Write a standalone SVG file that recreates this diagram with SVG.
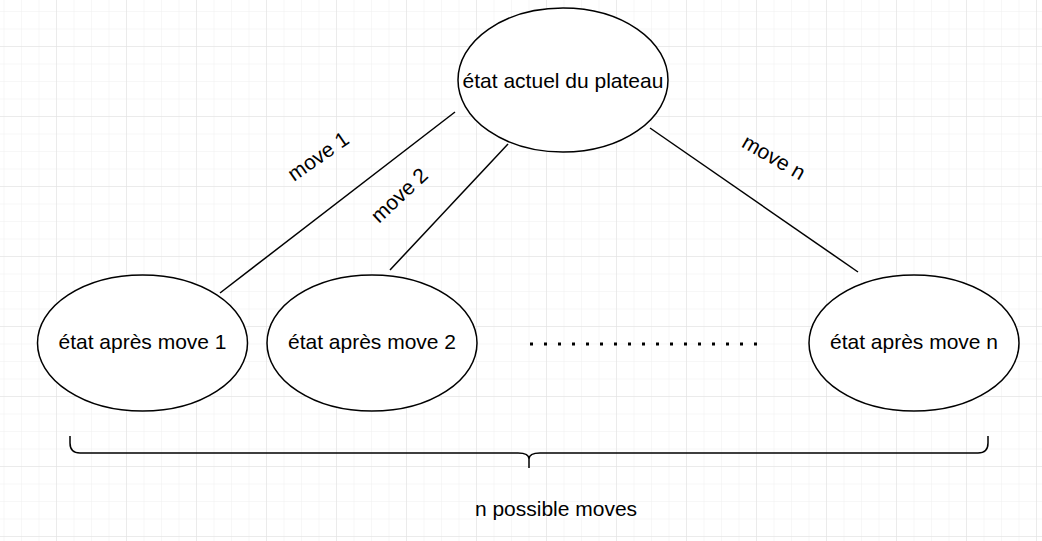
<svg xmlns="http://www.w3.org/2000/svg" width="1042" height="541" viewBox="0 0 1042 541">
<defs>
<pattern id="minor" width="17.5" height="17.5" patternUnits="userSpaceOnUse" x="56" y="46">
<path d="M0 0 H17.5 M0 0 V17.5" fill="none" stroke="#f0f0f0" stroke-width="1"/>
</pattern>
<pattern id="major" width="70" height="70" patternUnits="userSpaceOnUse" x="56" y="46">
<path d="M0 0 H70 M0 0 V70" fill="none" stroke="#e0e0e0" stroke-width="1"/>
</pattern>
<style>
.node ellipse{fill:#fff;stroke:#000;stroke-width:1.5}
text{font-family:"Liberation Sans",Arial,sans-serif;font-size:21px;fill:#000}
.lbl{text-anchor:middle;dominant-baseline:central}
.edge{stroke:#000;stroke-width:1.5;fill:none}
</style>
</defs>
<rect width="1042" height="541" fill="#fff"/>
<rect width="1042" height="541" fill="url(#minor)"/>
<rect width="1042" height="541" fill="url(#major)"/>
<g id="connectors">
<line class="edge" x1="455" y1="112" x2="220" y2="293"/>
<line class="edge" x1="508" y1="144" x2="390" y2="270"/>
<line class="edge" x1="650" y1="128" x2="858" y2="272"/>
<text class="lbl" transform="translate(318,156) rotate(-35)">move 1</text>
<text class="lbl" transform="translate(399,195) rotate(-43)">move 2</text>
<text class="lbl" transform="translate(774,157) rotate(30)">move n</text>
</g>
<g id="node-root" class="node">
<ellipse cx="563" cy="80" rx="105" ry="72"/>
<text class="lbl" x="563" y="80">état actuel du plateau</text>
</g>
<g id="node-move1" class="node">
<ellipse cx="142.5" cy="343" rx="105" ry="68"/>
<text class="lbl" x="142.5" y="341">état après move 1</text>
</g>
<g id="node-move2" class="node">
<ellipse cx="372" cy="343" rx="105" ry="68"/>
<text class="lbl" x="372" y="341">état après move 2</text>
</g>
<g id="node-moven" class="node">
<ellipse cx="914" cy="343" rx="105" ry="68"/>
<text class="lbl" x="914" y="341">état après move n</text>
</g>
<g id="dots">
<line x1="530" y1="344" x2="760" y2="344" stroke="#000" stroke-width="3" stroke-dasharray="3 11"/>
</g>
<g id="brace">
<path class="edge" d="M70 436 V443 Q70 453 80 453 H518 Q529 453 529 459 V468 M529 459 Q529 453 540 453 H978 Q988 453 988 443 V436"/>
</g>
<text class="lbl" x="556" y="508">n possible moves</text>
</svg>
